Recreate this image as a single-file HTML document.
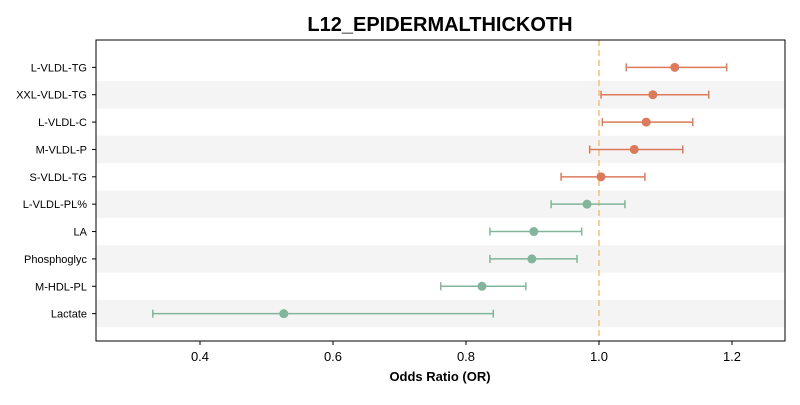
<!DOCTYPE html>
<html><head><meta charset="utf-8"><style>
body{margin:0;background:#fff;font-family:"Liberation Sans","DejaVu Sans",sans-serif;}
svg text{font-family:"Liberation Sans","DejaVu Sans",sans-serif;}
</style></head><body>
<svg id="chart" width="800" height="400" xmlns="http://www.w3.org/2000/svg">
<text x="440" y="31" text-anchor="middle" font-size="20" font-weight="bold">L12_EPIDERMALTHICKOTH</text>
<g id="plot"></g>
<text x="440" y="381" text-anchor="middle" font-size="13" font-weight="bold">Odds Ratio (OR)</text>
</svg>
<script>
const labels=["L-VLDL-TG","XXL-VLDL-TG","L-VLDL-C","M-VLDL-P","S-VLDL-TG","L-VLDL-PL%","LA","Phosphoglyc","M-HDL-PL","Lactate"];
const orValues=[1.114,1.081,1.071,1.053,1.003,0.982,0.902,0.899,0.824,0.526];
const ciLow=[1.041,1.003,1.005,0.986,0.943,0.928,0.836,0.836,0.762,0.329];
const ciHigh=[1.192,1.165,1.141,1.126,1.069,1.039,0.974,0.967,0.890,0.841];
const xTicks=[0.4,0.6,0.8,1.0,1.2];
const xTickLabels=["0.4","0.6","0.8","1.0","1.2"];
const L=96,R=785,T=40,B=341,xmin=0.2436,xmax=1.2797;
const X=v=>L+(v-xmin)/(xmax-xmin)*(R-L);
const Y=i=>T+(i+1)*(B-T)/(labels.length+1);
const NS="http://www.w3.org/2000/svg",g=document.getElementById('plot');
function mk(t,a){const e=document.createElementNS(NS,t);for(const k in a)e.setAttribute(k,a[k]);g.appendChild(e);return e;}
const rh=(B-T)/(labels.length+1);
labels.forEach((lab,i)=>{
 if(i%2===1){const b=mk('rect',{x:L,y:Y(i)-rh/2,width:R-L,height:rh,fill:'#f4f4f4'});
 
 }
});
const ref=mk('line',{x1:X(1),x2:X(1),y1:T,y2:B,stroke:'#f0c27a','stroke-width':1.5,'stroke-dasharray':'6,4'});


labels.forEach((lab,i)=>{
 const y=Y(i),c=orValues[i]>=1?'#dc7a5c':'#82b59b';
 const ln=mk('line',{x1:X(ciLow[i]),x2:X(ciHigh[i]),y1:y,y2:y,stroke:c,'stroke-width':1.5});
 
 
 [ciLow[i],ciHigh[i]].forEach(v=>{const cap=mk('line',{x1:X(v),x2:X(v),y1:y-4,y2:y+4,stroke:c,'stroke-width':1.5});
 
 });
 const pt=mk('circle',{cx:X(orValues[i]),cy:y,r:4.5,fill:c});
 
 
 const t=mk('text',{x:L-9,y:y+4,'text-anchor':'end','font-size':11});t.textContent=lab;
 
 
 const tk=mk('line',{x1:L-4,x2:L,y1:y,y2:y,stroke:'#000'});
 
 
});
xTicks.forEach((v,i)=>{
 const tk=mk('line',{x1:X(v),x2:X(v),y1:B,y2:B+4,stroke:'#000'});
 
 
 const t=mk('text',{x:X(v),y:B+20,'text-anchor':'middle','font-size':13});t.textContent=xTickLabels[i];
 
 
});
const fr=mk('rect',{x:L,y:T,width:R-L,height:B-T,fill:'none',stroke:'#000','stroke-width':1});


</script>
</body></html>
